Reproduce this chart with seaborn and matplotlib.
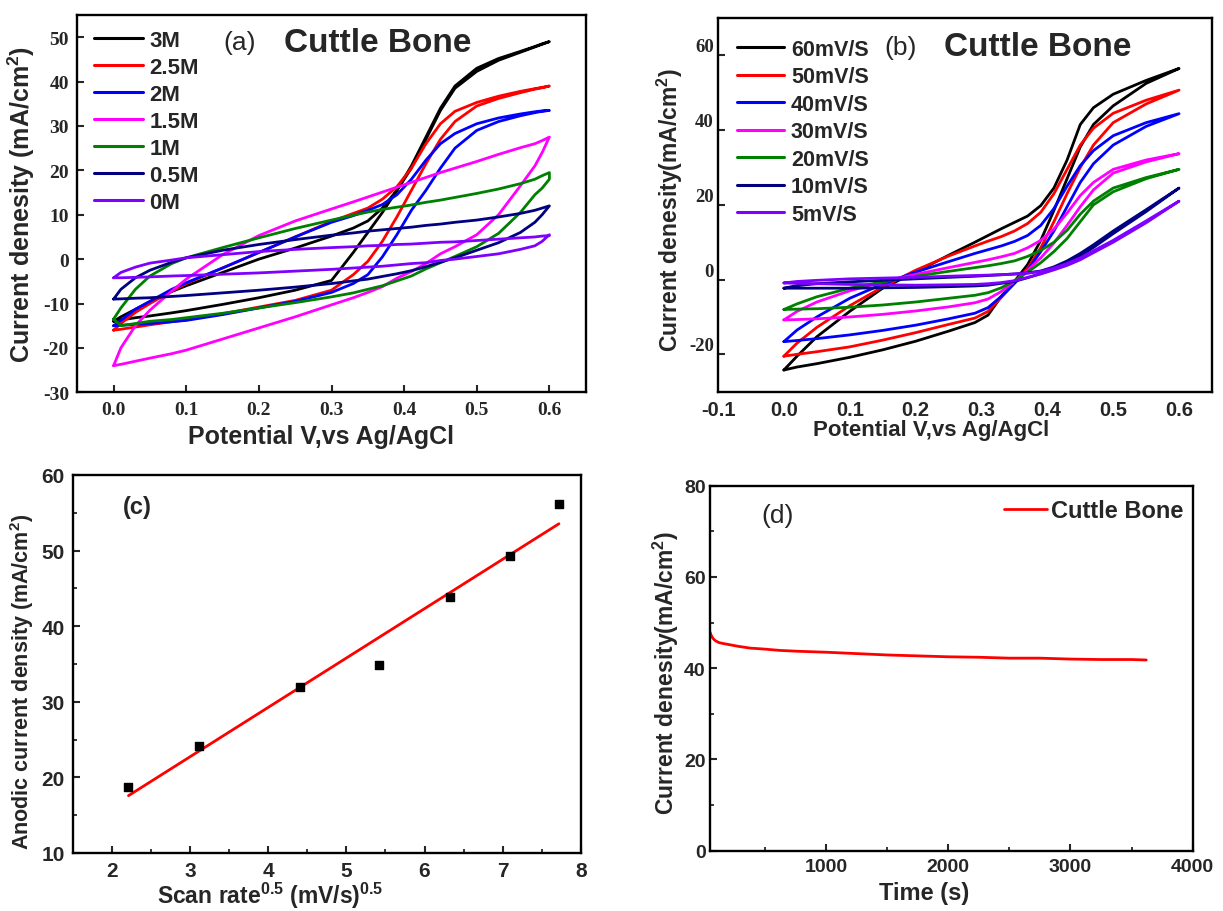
import numpy as np
import pandas as pd
import matplotlib
matplotlib.use('Agg')
import matplotlib.pyplot as plt
import seaborn as sns
from matplotlib.lines import Line2D
from matplotlib.ticker import MultipleLocator, FormatStrFormatter

# ---------------- data: (a) CV at different concentrations ----------------
A_V = [0, 0.01, 0.03, 0.05, 0.08, 0.1, 0.15, 0.2, 0.25, 0.3, 0.33, 0.35, 0.37,
       0.39, 0.41, 0.43, 0.45, 0.47, 0.5, 0.53, 0.56, 0.58, 0.59, 0.6]
A_LABELS = ['3M', '2.5M', '2M', '1.5M', '1M', '0.5M', '0M']

# upper branch (anodic sweep) and lower branch (return sweep), same V grid
a_3M_up = [-14, -13, -11.3, -9.6, -7.3, -6, -3, 0, 2.5, 5.2, 7, 8.6, 11.5,
           15.5, 21, 27.5, 34, 39, 43, 45.2, 46.8, 47.9, 48.5, 49]
a_3M_dn = [-14, -13.7, -13.2, -12.8, -12.1, -11.6, -10.2, -8.7, -7, -4.8, 1.5, 6, 10.5,
           15.5, 20.5, 27, 33.5, 38.5, 42.3, 44.8, 46.6, 47.8, 48.4, 49]
a_25M_up = [-16, -14.5, -12, -10, -7.2, -5.5, -2, 1.5, 5, 8.5, 10.3, 11.5, 13.5,
            16.3, 20.5, 26, 30.5, 33.3, 35.3, 36.7, 37.8, 38.4, 38.7, 39]
a_25M_dn = [-16, -15.8, -15.3, -14.8, -14.1, -13.7, -12.3, -10.8, -9.3, -7, -3.5, -0.5, 4,
            9.5, 15.5, 21.5, 27, 31, 34.5, 36.2, 37.5, 38.3, 38.6, 39]
a_2M_up = [-15, -13.8, -11.3, -9.5, -6.8, -5.3, -2, 1.5, 5, 8.3, 9.8, 11, 12.3,
           14.5, 18, 22.3, 26, 28.3, 30.5, 31.8, 32.7, 33.2, 33.4, 33.5]
a_2M_dn = [-15, -14.9, -14.7, -14.5, -14.1, -13.8, -12.5, -11, -9.5, -7.5, -5.5, -3.5, 0.5,
           5.5, 11, 15.5, 20.5, 25, 29, 31, 32.3, 33, 33.3, 33.5]
a_15M_up = [-24, -20, -15, -11.5, -7.2, -4.5, 1, 5.3, 8.6, 11.3, 12.9, 14, 15.1,
            16.2, 17.3, 18.4, 19.5, 20.5, 22, 23.6, 25.1, 26, 26.7, 27.5]
a_15M_dn = [-24, -23.7, -23, -22.3, -21.3, -20.5, -18, -15.5, -13, -10.3, -8.7, -7.5, -6.2,
            -4.3, -2.8, -1, 1.2, 2.8, 5.5, 10, 16.5, 21, 24, 27.5]
a_1M_up = [-13.5, -11, -6.8, -3.8, -1, 0.3, 2.6, 4.8, 6.9, 8.8, 9.9, 10.6, 11.2,
           11.7, 12.2, 12.8, 13.3, 13.9, 14.8, 15.8, 17, 18, 18.8, 19.5]
a_1M_dn = [-13.5, -15, -14.5, -14, -13.6, -13.2, -12.2, -11, -9.8, -8.5, -7.6, -6.8, -6,
           -4.9, -3.8, -2.2, -0.8, 0.6, 2.8, 5.8, 10.5, 14.5, 16, 18]
a_05M_up = [-9, -6.8, -4.2, -2.5, -0.7, 0.3, 2, 3.3, 4.4, 5.4, 5.9, 6.3, 6.6,
            6.9, 7.2, 7.6, 7.9, 8.3, 8.8, 9.5, 10.3, 11, 11.5, 12]
a_05M_dn = [-9, -8.95, -8.8, -8.7, -8.4, -8.2, -7.6, -7, -6.3, -5.5, -4.9, -4.5, -3.9,
            -3.3, -2.6, -1.7, -0.7, 0.3, 2, 3.7, 6, 8.3, 10, 12]
a_0M_up = [-4.2, -3, -1.8, -0.9, -0.2, 0.3, 1, 1.7, 2.2, 2.6, 2.8, 3, 3.1,
           3.3, 3.4, 3.6, 3.8, 3.9, 4.2, 4.5, 4.8, 5, 5.2, 5.3]
a_0M_dn = [-4.2, -4.2, -4.1, -4, -3.8, -3.7, -3.4, -3.1, -2.7, -2.3, -2, -1.8, -1.6,
           -1.3, -1, -0.8, -0.3, 0, 0.6, 1.2, 2.2, 3, 4, 5.5]

# ---------------- data: (b) CV at different scan rates ----------------
B_V = [0, 0.02, 0.05, 0.1, 0.15, 0.2, 0.25, 0.29, 0.31, 0.33, 0.35, 0.37,
       0.39, 0.41, 0.43, 0.45, 0.47, 0.5, 0.55, 0.6]
B_LABELS = ['60mV/S', '50mV/S', '40mV/S', '30mV/S', '20mV/S', '10mV/S', '5mV/S']

b_60_up = [-24.2, -20.5, -15.3, -8.5, -2.3, 2, 6.5, 10, 11.8, 13.6, 15.3, 17,
           19.8, 24.5, 32, 41.5, 46, 49.6, 53.3, 56.5]
b_60_dn = [-24.2, -23.4, -22.5, -20.8, -18.8, -16.5, -13.8, -11.5, -9.5, -4.5, -0.5, 4,
           10.5, 18.5, 27, 35.5, 41.5, 46.5, 52.5, 56.5]
b_50_up = [-20.5, -17, -12.8, -7, -2, 2.5, 6.3, 9, 10.3, 11.5, 13, 15,
           18, 23, 29.5, 36, 40.5, 44.5, 48, 50.7]
b_50_dn = [-20.5, -20, -19.3, -18, -16.2, -14.2, -12, -10.3, -8.5, -4.8, -1, 3,
           8.5, 15.5, 23, 30, 36, 42, 47, 50.7]
b_40_up = [-16.6, -13.5, -10, -5, -1.2, 2, 4.8, 7, 8, 9, 10.2, 11.8,
           14.5, 19, 25, 30.5, 34.5, 38.5, 42, 44.4]
b_40_dn = [-16.6, -16.3, -15.8, -14.8, -13.6, -12.2, -10.5, -9, -7.5, -4.5, -1, 2.5,
           7.5, 13, 19.5, 26, 31, 36, 41, 44.4]
b_30_up = [-10.8, -8.5, -6, -3, -0.6, 1.4, 3.2, 4.6, 5.3, 6.1, 7, 8.5,
           10.5, 13.5, 17.8, 22.5, 26, 29.5, 32, 33.7]
b_30_dn = [-10.8, -10.7, -10.5, -10, -9.3, -8.4, -7.3, -6.2, -5.2, -3.2, -0.5, 2.5,
           5.8, 9.8, 14.5, 19.5, 24, 28.5, 31.5, 33.7]
b_20_up = [-8, -6.5, -4.6, -2.3, -0.6, 0.9, 2.2, 3.2, 3.7, 4.3, 5, 6.2,
           7.8, 10, 13.2, 17.5, 21, 24.5, 27.3, 29.5]
b_20_dn = [-8, -7.9, -7.8, -7.4, -6.8, -6, -5, -4.2, -3.5, -2.2, -0.3, 2,
           4.5, 7.5, 11, 15.5, 20, 23.5, 27, 29.5]
b_10_up = [-2.3, -1.6, -1.1, -0.6, -0.2, 0.2, 0.6, 0.9, 1.1, 1.3, 1.5, 1.8,
           2.3, 3.4, 5, 7, 9.3, 13, 18.7, 24.5]
b_10_dn = [-2.3, -2.3, -2.3, -2.3, -2.2, -2.1, -1.9, -1.7, -1.5, -1, -0.5, 0.5,
           1.6, 2.8, 4.3, 6.3, 8.6, 12.3, 18.2, 24.5]
b_5_up = [-0.9, -0.5, -0.2, 0.2, 0.4, 0.6, 0.9, 1.1, 1.2, 1.3, 1.5, 1.7,
          2.2, 3.1, 4.3, 5.8, 7.7, 10.5, 15.7, 21]
b_5_dn = [-0.9, -1, -1.1, -1.3, -1.4, -1.5, -1.4, -1.3, -1.1, -0.8, -0.3, 0.6,
          1.5, 2.6, 3.8, 5.3, 7.2, 10, 15.2, 21]

# ---------------- data: (c) anodic peak vs sqrt(scan rate) ----------------
c_sqrt_rate = [2.21, 3.11, 4.41, 5.42, 6.33, 7.09, 7.72]
c_peak = [18.7, 24.1, 32.0, 34.9, 43.9, 49.3, 56.1]

# ---------------- data: (d) chronoamperometry ----------------
d_time = [50, 60, 75, 95, 125, 160, 200, 280, 380, 490, 620, 780, 1000, 1250,
          1500, 1750, 2000, 2250, 2500, 2750, 3000, 3250, 3500, 3620]
d_current = [47.9, 47.2, 46.5, 46.0, 45.6, 45.4, 45.2, 44.8, 44.4, 44.2, 43.9, 43.7,
             43.5, 43.2, 42.9, 42.7, 42.5, 42.4, 42.2, 42.2, 42.0, 41.9, 41.9, 41.8]

COLORS = ['#000000', '#ff0000', '#0000ff', '#ff00ff', '#008000', '#000080', '#8000ff']

# ---------------- style ----------------
sns.set_style('ticks')
plt.rcParams['font.family'] = ['Liberation Sans', 'DejaVu Sans']
plt.rcParams['axes.unicode_minus'] = False
plt.rcParams['mathtext.fontset'] = 'custom'
plt.rcParams['mathtext.rm'] = 'Liberation Sans'
plt.rcParams['mathtext.bf'] = 'Liberation Sans:bold'
plt.rcParams['axes.linewidth'] = 1.7
plt.rcParams['axes.edgecolor'] = 'black'

W, H = 1223, 912
SANS = ['Liberation Sans', 'DejaVu Sans']
SERIF = ['Liberation Serif', 'DejaVu Serif']


def px_rect(left, top, right, bottom):
    """像素坐标 -> figure 坐标"""
    return [left / W, 1 - bottom / H, (right - left) / W, (bottom - top) / H]


def fig_text(fig, x, y, s, **kw):
    fig.text(x / W, 1 - y / H, s, ha='center', va='center', **kw)


def cv_frame(grid, ups, dns, labels):
    """把上下两支拼成闭合回路"""
    rows = []
    for lab, up, dn in zip(labels, ups, dns):
        v = list(grid) + list(grid[::-1])
        j = list(up) + list(dn[::-1])
        rows.append(pd.DataFrame({'V': v, 'j': j, 'label': lab}))
    return pd.concat(rows, ignore_index=True)


def style_ticks(ax, size, family, weight='bold', pad=4, length=5):
    ax.tick_params(direction='in', length=length, width=1.5, pad=pad,
                   top=False, right=False, labelsize=size)
    for lbl in ax.get_xticklabels() + ax.get_yticklabels():
        lbl.set_fontfamily(family)
        lbl.set_fontweight(weight)


def cv_legend(ax, fig, labels, x, y, size, spacing=0.27):
    handles = [Line2D([], [], color=c, lw=2.2) for c in COLORS]
    ax.legend(handles, labels, loc='upper left', bbox_to_anchor=(x / W, 1 - y / H),
              bbox_transform=fig.transFigure, frameon=False, borderpad=0,
              borderaxespad=0, handlelength=2.2, handletextpad=0.3,
              labelspacing=spacing, prop={'size': size, 'weight': 'bold'})


fig = plt.figure(figsize=(W / 100, H / 100), dpi=100)
fig.patch.set_facecolor('white')

# ---------------- (a) ----------------
ax_a = fig.add_axes(px_rect(77.3, 16, 585.7, 393.3))
df_a = cv_frame(A_V,
                [a_3M_up, a_25M_up, a_2M_up, a_15M_up, a_1M_up, a_05M_up, a_0M_up],
                [a_3M_dn, a_25M_dn, a_2M_dn, a_15M_dn, a_1M_dn, a_05M_dn, a_0M_dn],
                A_LABELS)
sns.lineplot(data=df_a, x='V', y='j', hue='label', hue_order=A_LABELS,
             palette=dict(zip(A_LABELS, COLORS)), sort=False, estimator=None,
             lw=2.0, legend=False, ax=ax_a)
ax_a.set_xlim(-0.05, 0.65)
ax_a.set_ylim(-30, 55)
ax_a.set_xticks(np.arange(0, 0.61, 0.1))
ax_a.set_yticks(np.arange(-30, 51, 10))
ax_a.xaxis.set_major_formatter(FormatStrFormatter('%.1f'))
style_ticks(ax_a, 14, SERIF, pad=6)
ax_a.set_xlabel('Potential V,vs Ag/AgCl', fontsize=18, fontweight='bold')
ax_a.set_ylabel(r'Current denesity (mA/cm$^{\mathbf{2}}$)', fontsize=18, fontweight='bold')
ax_a.xaxis.set_label_coords((320.5 - 77.3) / 508.4, -0.083)
ax_a.yaxis.set_label_coords(-0.08, 0.5)
cv_legend(ax_a, fig, A_LABELS, 94, 31, 16)
fig_text(fig, 240, 43, '(a)', fontsize=19)
fig_text(fig, 378, 44, 'Cuttle Bone', fontsize=24, fontweight='bold')

# ---------------- (b) ----------------
ax_b = fig.add_axes(px_rect(718, 19, 1212, 392.7))
df_b = cv_frame(B_V,
                [b_60_up, b_50_up, b_40_up, b_30_up, b_20_up, b_10_up, b_5_up],
                [b_60_dn, b_50_dn, b_40_dn, b_30_dn, b_20_dn, b_10_dn, b_5_dn],
                B_LABELS)
sns.lineplot(data=df_b, x='V', y='j', hue='label', hue_order=B_LABELS,
             palette=dict(zip(B_LABELS, COLORS)), sort=False, estimator=None,
             lw=2.0, legend=False, ax=ax_b)
ax_b.set_xlim(-0.1, 0.65)
ax_b.set_ylim(-30, 70)
ax_b.set_xticks(np.arange(-0.1, 0.61, 0.1))
ax_b.set_yticks([-20, 0, 20, 40, 60])
ax_b.xaxis.set_major_formatter(FormatStrFormatter('%.1f'))
style_ticks(ax_b, 13.5, SERIF, pad=3)
for lbl in ax_b.get_xticklabels():
    lbl.set_fontfamily(SANS)
for lbl in ax_b.get_yticklabels():
    lbl.set_va('bottom')
ax_b.tick_params(axis='x', pad=6, length=0, labelsize=14.5)
ax_b.set_xlabel('Potential V,vs Ag/AgCl', fontsize=16, fontweight='bold')
ax_b.set_ylabel(r'Current denesity(mA/cm$^{\mathbf{2}}$)', fontsize=16.5, fontweight='bold')
ax_b.xaxis.set_label_coords((931.5 - 718) / 494, -0.073)
ax_b.yaxis.set_label_coords(-0.066, 0.49)
cv_legend(ax_b, fig, B_LABELS, 737, 40, 15.5, spacing=0.3)
fig_text(fig, 901, 48, '(b)', fontsize=19)
fig_text(fig, 1038, 48, 'Cuttle Bone', fontsize=24, fontweight='bold')

# ---------------- (c) ----------------
ax_c = fig.add_axes(px_rect(73, 476, 580.8, 854))
sns.regplot(x=c_sqrt_rate, y=c_peak, ci=None, ax=ax_c, marker='s', color='black',
            scatter_kws={'s': 38, 'color': 'black', 'zorder': 3, 'alpha': 1},
            line_kws={'color': 'red', 'lw': 2.0})
ax_c.set_xlim(1.5, 8)
ax_c.set_ylim(10, 60)
ax_c.xaxis.set_major_locator(MultipleLocator(1))
ax_c.xaxis.set_minor_locator(MultipleLocator(0.5))
ax_c.yaxis.set_major_locator(MultipleLocator(10))
ax_c.yaxis.set_minor_locator(MultipleLocator(5))
style_ticks(ax_c, 15, SANS, pad=6, length=5)
ax_c.tick_params(which='minor', direction='in', length=3, width=1.3, top=False, right=False)
ax_c.set_xlabel(r'Scan rate$^{\mathbf{0.5}}$ (mV/s)$^{\mathbf{0.5}}$', fontsize=16.5, fontweight='bold')
ax_c.set_ylabel(r'Anodic current density (mA/cm$^{\mathbf{2}}$)', fontsize=15.5, fontweight='bold')
ax_c.xaxis.set_label_coords((270 - 73) / 507.8, -0.072)
ax_c.yaxis.set_label_coords(-0.072, 0.455)
fig_text(fig, 137, 508, '(c)', fontsize=17, fontweight='bold')

# ---------------- (d) ----------------
ax_d = fig.add_axes(px_rect(710, 486.7, 1192.7, 851.7))
sns.lineplot(x=d_time, y=d_current, color='red', lw=2.0, ax=ax_d, label='Cuttle Bone')
ax_d.set_xlim(50, 4000)
ax_d.set_ylim(0, 80)
ax_d.xaxis.set_major_locator(MultipleLocator(1000))
ax_d.xaxis.set_minor_locator(MultipleLocator(500))
ax_d.yaxis.set_major_locator(MultipleLocator(20))
ax_d.yaxis.set_minor_locator(MultipleLocator(10))
style_ticks(ax_d, 14, SANS, pad=5, length=5)
ax_d.tick_params(axis='y', pad=3)
ax_d.tick_params(which='minor', direction='in', length=3, width=1.3, top=False, right=False)
ax_d.set_xlabel('Time (s)', fontsize=17, fontweight='bold')
ax_d.set_ylabel(r'Current denesity(mA/cm$^{\mathbf{2}}$)', fontsize=16.5, fontweight='bold')
ax_d.xaxis.set_label_coords((924.5 - 710) / 482.7, -0.082)
ax_d.yaxis.set_label_coords(-0.06, 0.49)
ax_d.legend(loc='upper left', bbox_to_anchor=(1004 / W, 1 - 500 / H),
            bbox_transform=fig.transFigure, frameon=False, borderpad=0,
            borderaxespad=0, handlelength=1.8, handletextpad=0.2,
            prop={'size': 17, 'weight': 'bold'})
fig_text(fig, 778, 516, '(d)', fontsize=19)

fig.savefig('out.png', dpi=100, facecolor='white')
